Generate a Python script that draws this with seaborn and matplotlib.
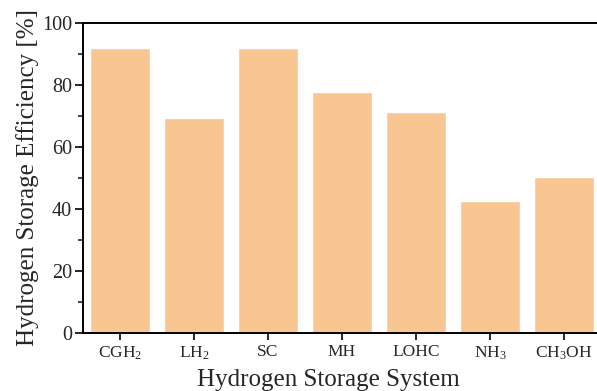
import matplotlib
matplotlib.use('Agg')
import matplotlib.pyplot as plt
import seaborn as sns
from matplotlib.ticker import MultipleLocator

# ==================== DATA ====================

systems = ['CGH$_2$', 'LH$_2$', 'SC', 'MH', 'LOHC', 'NH$_3$', 'CH$_3$OH']
efficiency = [92.0, 69.2, 92.0, 77.6, 71.4, 42.5, 50.3]

bar_color = '#F9C591'

# ==================== PLOT ====================

sns.set_style('ticks')
plt.rcParams['font.family'] = ['Liberation Serif', 'DejaVu Serif']
plt.rcParams['mathtext.fontset'] = 'custom'
plt.rcParams['mathtext.rm'] = 'Liberation Serif'
plt.rcParams['mathtext.default'] = 'regular'

fig = plt.figure(figsize=(5.97, 3.91), dpi=100)
# right edge of the axes runs past the figure, as in the cropped original
ax = fig.add_axes([83 / 597, 58 / 391, 518 / 597, 310 / 391])

sns.barplot(x=systems, y=efficiency, color=bar_color, saturation=1,
            width=0.81, ax=ax)

ax.set_xlim(-0.5, 6.5)
ax.set_ylim(0, 100)
ax.yaxis.set_major_locator(MultipleLocator(20))
ax.yaxis.set_minor_locator(MultipleLocator(10))

for side in ['left', 'bottom', 'top', 'right']:
    ax.spines[side].set_linewidth(1.4)
    ax.spines[side].set_color('black')

ax.tick_params(axis='y', which='major', direction='out', length=6, width=1.4,
               labelsize=14.5, pad=2)
ax.tick_params(axis='y', which='minor', direction='out', length=3.5, width=1.2)
ax.tick_params(axis='x', which='major', direction='out', length=5, width=1.4,
               labelsize=12.5, pad=3)

ax.set_xlabel('Hydrogen Storage System', fontsize=18)
ax.set_ylabel('Hydrogen Storage Efficiency [%]', fontsize=18, labelpad=2)
ax.xaxis.set_label_coords(0.473, -0.115)

fig.savefig('out.png', dpi=100)
